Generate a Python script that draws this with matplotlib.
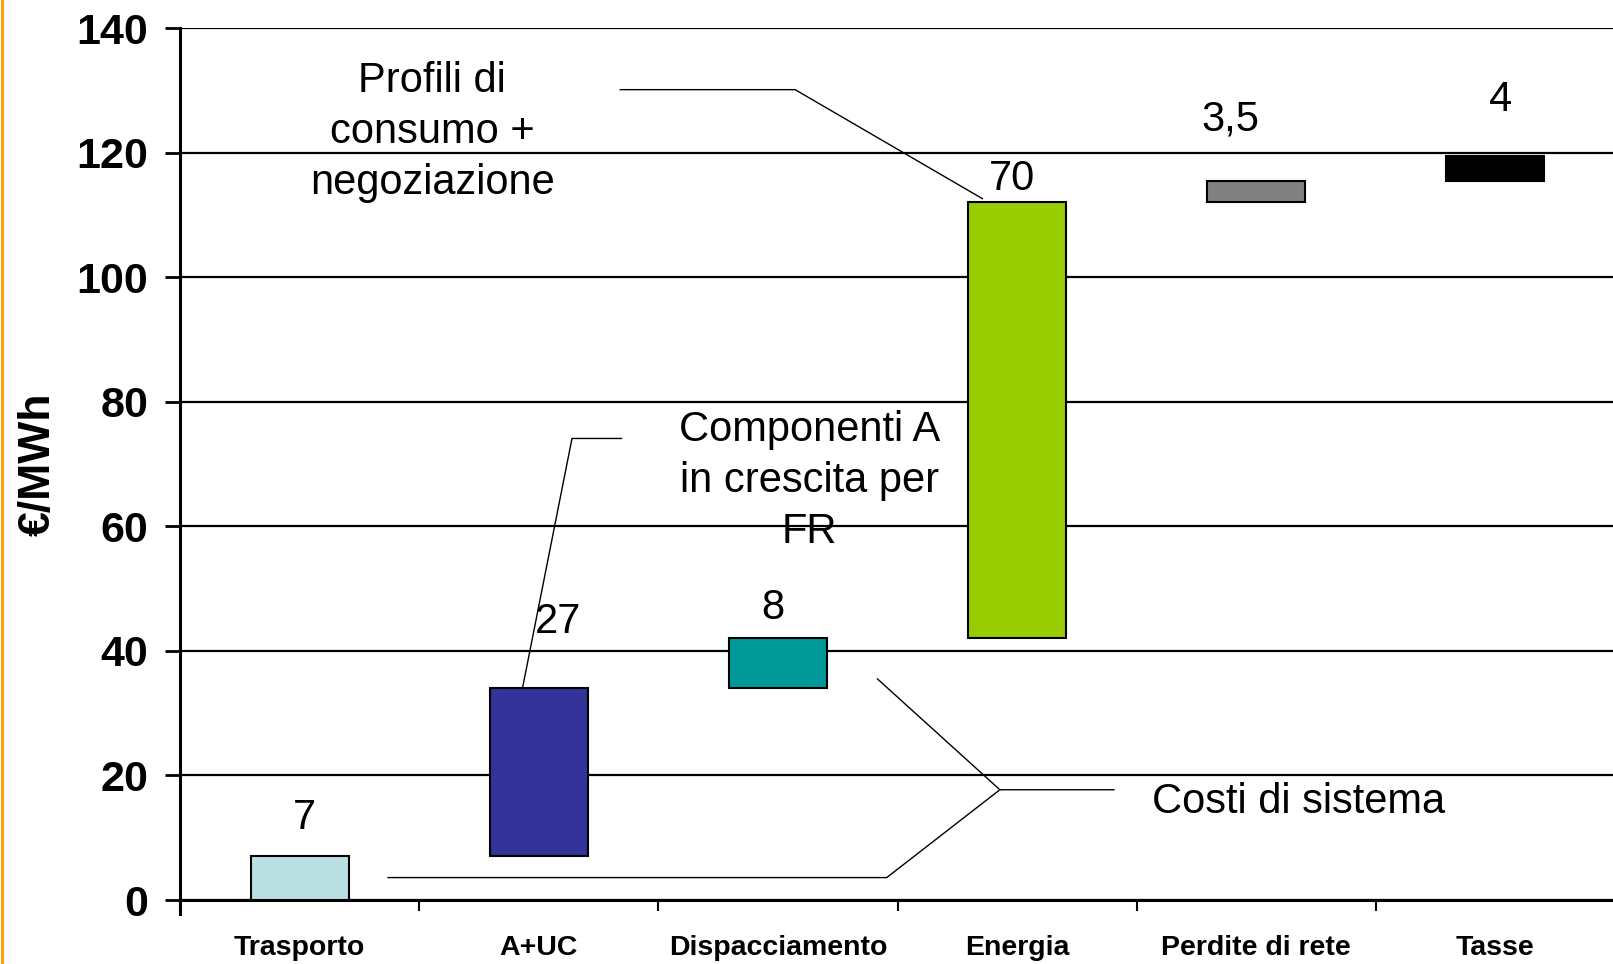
import matplotlib.pyplot as plt
import matplotlib.lines as mlines
import numpy as np

# data
categories = ['Trasporto', 'A+UC', 'Dispacciamento', 'Energia', 'Perdite di rete', 'Tasse']
values = [7, 27, 8, 70, 3.5, 4]
value_labels = ['7', '27', '8', '70', '3,5', '4']
colors = ['#B9E0E3', '#333399', '#009999', '#99CC00', '#808080', '#000000']
yticks = [0, 20, 40, 60, 80, 100, 120, 140]

# waterfall bottoms
bottoms = np.concatenate([[0], np.cumsum(values)[:-1]])
tops = bottoms + np.array(values)

# label offsets (dx in slots, dy in data units)
label_off = [(0.02, 6.2), (0.08, 10.6), (-0.02, 4.9), (-0.02, 3.7), (-0.11, 9.8), (0.02, 8.9)]

reg = ['Liberation Sans', 'DejaVu Sans']

fig = plt.figure(figsize=(16.13, 9.64), dpi=100)
ax = fig.add_axes([180 / 1613, 1 - 900 / 964, 1435 / 1613, (900 - 28) / 964])

x = np.arange(len(categories))
ax.bar(x, values, bottom=bottoms, width=0.41, color=colors, edgecolor='black',
       linewidth=1.5, zorder=3)

for i in range(len(values)):
    dx, dy = label_off[i]
    ax.text(x[i] + dx, tops[i] + dy, value_labels[i], ha='center', va='center',
            fontsize=30, family=reg, zorder=4)

ax.set_xlim(-0.5, 5.5)
ax.set_ylim(0, 140)
ax.set_yticks(yticks)
ax.set_yticklabels([str(t) for t in yticks], fontsize=31, fontweight='bold', family=reg)
ax.set_xticks(x)
ax.set_xticklabels(categories, fontsize=20.5, fontweight='bold', family=reg)
ax.set_xticks(np.arange(-0.5, 6.0, 1.0), minor=True)
ax.tick_params(axis='x', which='major', length=0, pad=25)
ax.tick_params(axis='x', which='minor', length=8, width=1.5, direction='out')
ax.tick_params(axis='y', length=11, width=2, pad=12, direction='out')

ax.yaxis.grid(True, color='black', linewidth=1.6, zorder=0)
for s in ['top', 'right']:
    ax.spines[s].set_visible(False)
ax.spines['left'].set_linewidth(2.2)
ax.spines['bottom'].set_linewidth(2.2)
ax.spines['left'].set_bounds(-2.2, 140)

fig.text(38 / 1613, 0.518, '€/MWh', rotation=90, ha='center', va='center',
         fontsize=32, fontweight='bold', family=reg)

# annotations
ax.text(0.555, 123.3, 'Profili di\nconsumo +\nnegoziazione', ha='center', va='center',
        fontsize=30, family=reg, linespacing=1.37)
ax.plot([1.341, 2.072, 2.855], [130.1, 130.1, 112.6], color='black', lw=1, zorder=5)

ax.text(2.132, 67.3, 'Componenti A\nin crescita per\nFR', ha='center', va='center',
        fontsize=30, family=reg, linespacing=1.35)
ax.plot([1.346, 1.139, 0.933], [74.1, 74.1, 34.2], color='black', lw=1, zorder=5)

ax.text(3.564, 15.7, 'Costi di sistema', ha='left', va='center', fontsize=30, family=reg)
ax.plot([3.405, 2.928, 2.416], [17.7, 17.7, 35.5], color='black', lw=1, zorder=5)
ax.plot([2.928, 2.455, 0.370], [17.7, 3.6, 3.6], color='black', lw=1, zorder=5)

# orange border on the left
fig.add_artist(mlines.Line2D([0.001, 0.001], [0, 1], color='#FF9900', lw=2,
                             transform=fig.transFigure))

fig.savefig('out.png', dpi=100)
